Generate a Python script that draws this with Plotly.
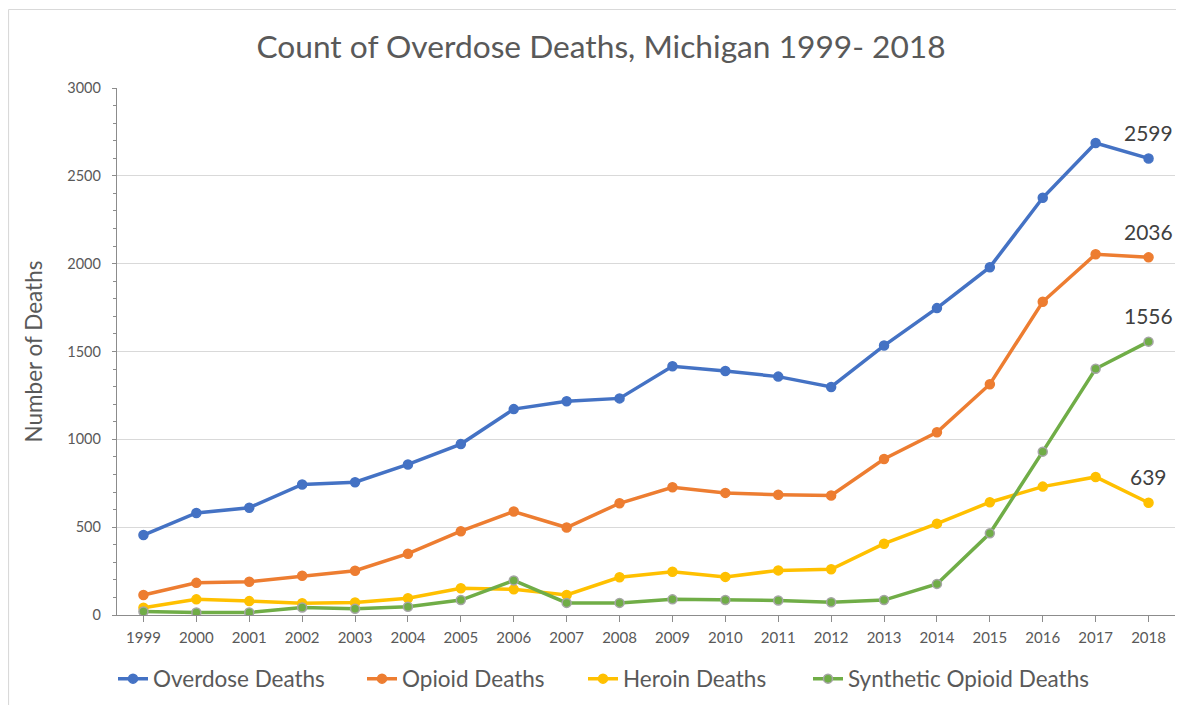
import plotly.graph_objects as go

years = [str(y) for y in range(1999, 2019)]
overdose = [455, 581, 611, 743, 756, 857, 973, 1172, 1217, 1233, 1416, 1389, 1357, 1298, 1534, 1747, 1980, 2375, 2687, 2599]
opioid = [114, 183, 189, 223, 252, 349, 477, 589, 498, 636, 727, 695, 685, 680, 888, 1040, 1314, 1783, 2054, 2036]
heroin = [41, 89, 79, 67, 71, 95, 152, 146, 114, 215, 246, 217, 254, 260, 406, 520, 642, 731, 786, 639]
synthetic = [20, 14, 14, 43, 35, 47, 85, 197, 69, 69, 89, 85, 83, 73, 85, 177, 465, 930, 1402, 1556]

series_names = ["Overdose Deaths", "Opioid Deaths", "Heroin Deaths", "Synthetic Opioid Deaths"]
series_values = [overdose, opioid, heroin, synthetic]
series_colors = ["#4472C4", "#ED7D31", "#FFC000", "#70AD47"]
marker_borders = ["#4472C4", "#ED7D31", "#FFC000", "#A5A5A5"]

FONT = "Lato, 'Open Sans', sans-serif"

# page body has an 8px margin; positions below are in reference pixels
OFF = 8
W, H = 1184 - OFF, 705 - OFF
L = 117 - OFF
T = 88 - OFF
R = W - (1175 - OFF)
B = H - (615 - OFF)
pw = W - L - R
ph = H - T - B


def px_x(p):
    return (p - OFF - L) / pw


def px_y(p):
    return (H - B - (p - OFF)) / ph


def cx(p):
    return (p - OFF) / W


def cy(p):
    return 1 - (p - OFF) / H


legend_ids = ["legend", "legend2", "legend3", "legend4"]
legend_starts = [118, 367, 588, 813]

fig = go.Figure()
for name, vals, col, mb, lid in zip(series_names, series_values, series_colors, marker_borders, legend_ids):
    fig.add_trace(go.Scatter(
        x=years, y=vals, name=name, mode="lines+markers",
        line=dict(color=col, width=3.5),
        marker=dict(color=col, size=9, line=dict(color=mb, width=1.5)),
        legend=lid, showlegend=True,
    ))

annotations = []
for vals in series_values:
    annotations.append(dict(
        x=len(years) - 1, y=vals[-1], xref="x", yref="y", text=str(vals[-1]),
        showarrow=False, yshift=26, font=dict(family=FONT, size=21, color="#404040"),
    ))

shapes = [
    dict(type="line", xref="paper", yref="paper", x0=px_x(8.5), x1=px_x(1200), y0=px_y(9.5), y1=px_y(9.5),
         line=dict(color="#D9D9D9", width=1.2)),
    dict(type="line", xref="paper", yref="paper", x0=px_x(8.5), x1=px_x(8.5), y0=px_y(9.5), y1=px_y(720),
         line=dict(color="#D9D9D9", width=1.2)),
]

legend_layout = {}
for lid, xs in zip(legend_ids, legend_starts):
    legend_layout[lid] = dict(
        orientation="h", xref="container", yref="container",
        x=cx(xs - 5), xanchor="left", y=cy(679), yanchor="middle",
        font=dict(family=FONT, size=22.5, color="#595959"),
        itemwidth=30, bgcolor="rgba(0,0,0,0)",
    )

fig.update_layout(
    width=W, height=H, autosize=False, showlegend=True,
    margin=dict(l=L, r=R, t=T, b=B),
    paper_bgcolor="white", plot_bgcolor="white",
    font=dict(family=FONT, color="#595959"),
    title=dict(text="Count of Overdose Deaths, Michigan 1999- 2018",
               x=cx(601), xanchor="center", xref="container",
               y=cy(47), yanchor="middle", yref="container",
               font=dict(family=FONT, size=31.7, color="#595959")),
    xaxis=dict(
        type="category", range=[-0.5, 19.5],
        showline=True, linecolor="#8C8C8C", linewidth=1.3,
        ticks="outside", ticklen=6, tickcolor="#8C8C8C",
        showgrid=False, tickfont=dict(family=FONT, size=15, color="#595959"),
        zeroline=False, ticklabelstandoff=3,
    ),
    yaxis=dict(
        range=[0, 3000], dtick=500, tick0=0,
        showline=True, linecolor="#8C8C8C", linewidth=1.3,
        ticks="outside", ticklen=4, tickcolor="#8C8C8C",
        showgrid=True, gridcolor="#D9D9D9", gridwidth=1,
        zeroline=False,
        minor=dict(dtick=100, ticks="outside", ticklen=3, tickcolor="#8C8C8C", showgrid=False),
        tickfont=dict(family=FONT, size=14.5, color="#595959"),
        ticklabelstandoff=8,
        title=dict(text="Number of Deaths", font=dict(family=FONT, size=22.5, color="#595959"), standoff=18),
    ),
    annotations=annotations,
    shapes=shapes,
    **legend_layout,
)

fig.write_html("out.html")
